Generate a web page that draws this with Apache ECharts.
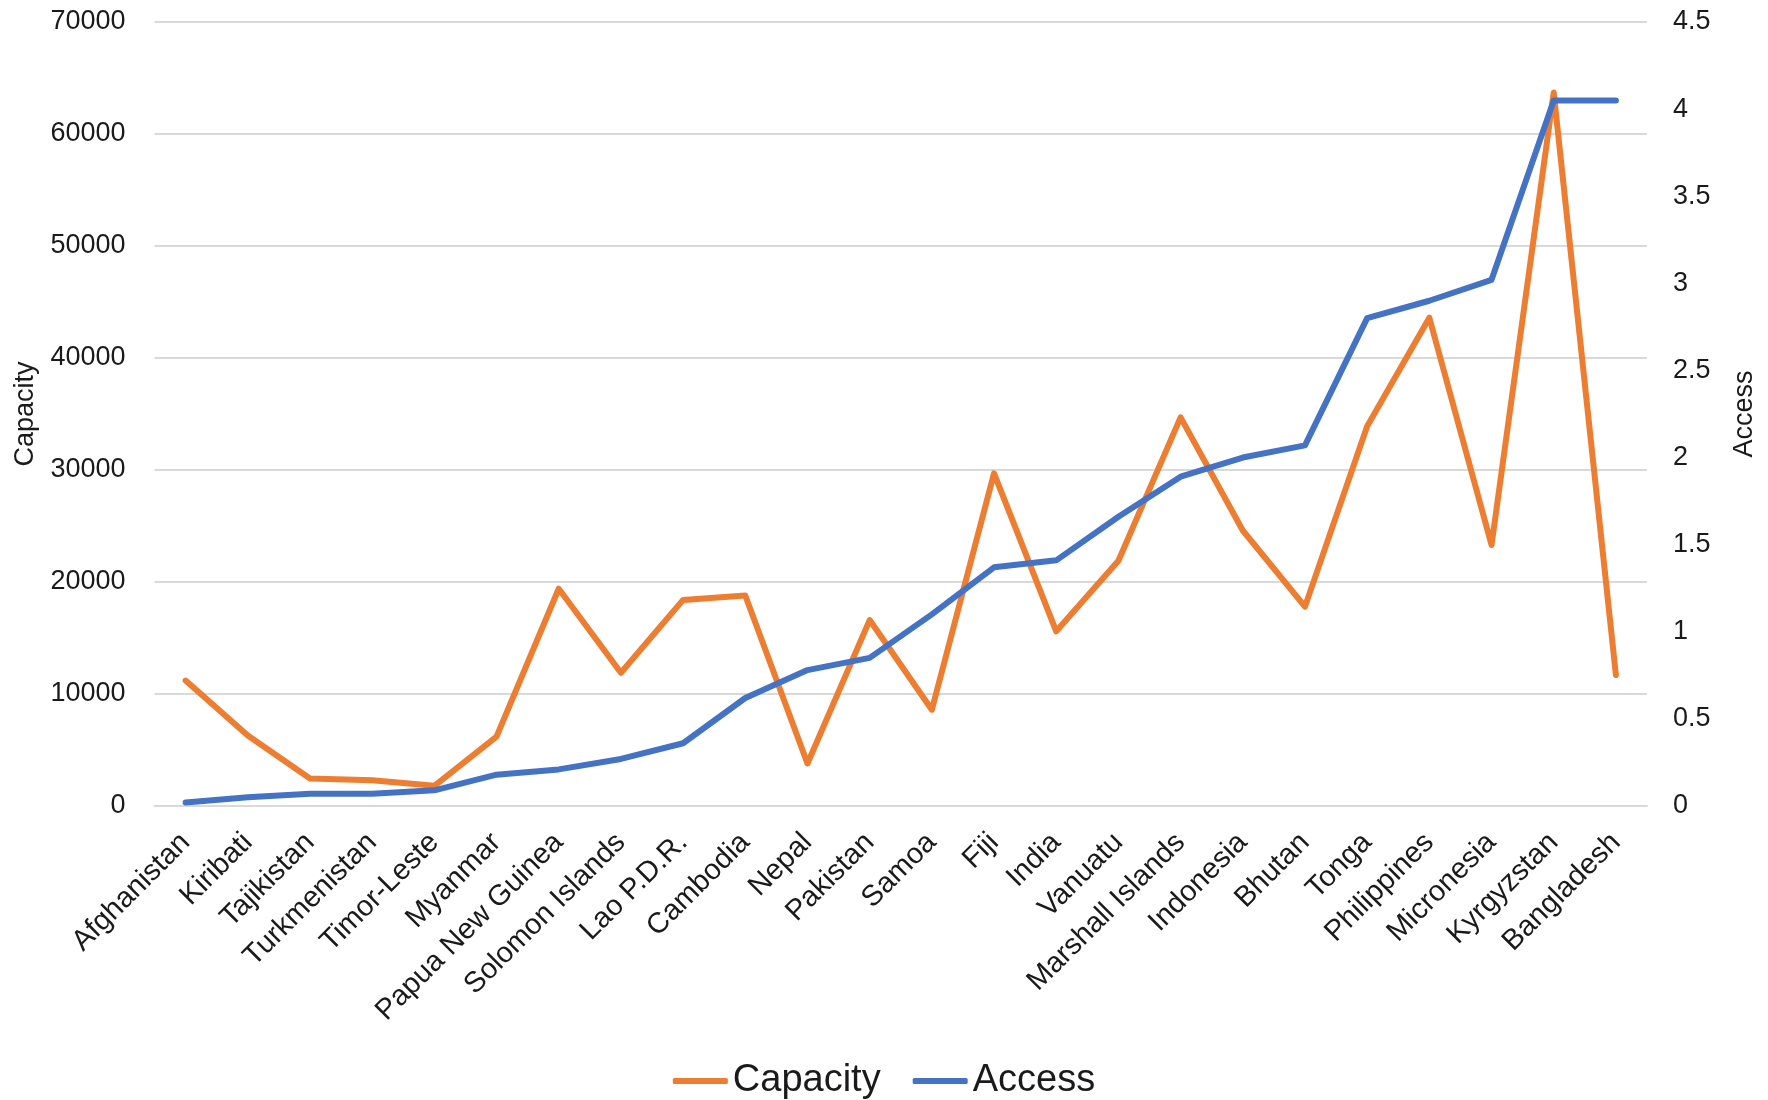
<!DOCTYPE html>
<html>
<head>
<meta charset="utf-8">
<style>
  html, body { margin: 0; padding: 0; background: #fff; }
  #chart { width: 1768px; height: 1100px; }
</style>
<script src="https://cdn.jsdelivr.net/npm/echarts@6/dist/echarts.min.js"></script>
</head>
<body>
<div id="chart"></div>
<script>
const categories = ["Afghanistan","Kiribati","Tajikistan","Turkmenistan","Timor-Leste","Myanmar","Papua New Guinea","Solomon Islands","Lao P.D.R.","Cambodia","Nepal","Pakistan","Samoa","Fiji","India","Vanuatu","Marshall Islands","Indonesia","Bhutan","Tonga","Philippines","Micronesia","Kyrgyzstan","Bangladesh"];
const capacity = [11200, 6300, 2450, 2300, 1800, 6200, 19400, 11900, 18400, 18800, 3800, 16600, 8600, 29700, 15600, 21900, 34700, 24600, 17800, 33900, 43600, 23300, 63700, 11700];
const access = [0.02, 0.05, 0.07, 0.07, 0.09, 0.18, 0.21, 0.27, 0.36, 0.62, 0.78, 0.85, 1.1, 1.37, 1.41, 1.66, 1.89, 2.0, 2.07, 2.8, 2.9, 3.02, 4.05, 4.05];
const capacityTicks = { min: 0, max: 70000, interval: 10000 };
const accessTicks = { min: 0, max: 4.5, interval: 0.5 };

const FONT = "'Liberation Sans', Arial, sans-serif";
const TXT = '#1a1a1a';
const chart = echarts.init(document.getElementById('chart'), null, { renderer: 'canvas' });
chart.setOption({
  animation: false,
  backgroundColor: '#ffffff',
  textStyle: { fontFamily: FONT, color: TXT },
  grid: { left: 154.5, right: 121, top: 22, bottom: 294, containLabel: false },
  legend: {
    data: ['Capacity', 'Access'],
    left: 'center',
    top: 1057,
    itemWidth: 55,
    itemHeight: 6,
    itemGap: 32,
    icon: 'roundRect',
    textStyle: { fontFamily: FONT, fontSize: 38, color: TXT }
  },
  xAxis: {
    type: 'category',
    data: categories,
    boundaryGap: true,
    axisLine: { show: true, lineStyle: { color: '#d9d9d9', width: 2 } },
    axisTick: { show: false },
    axisLabel: { interval: 0, rotate: 45, margin: 32, fontSize: 29, color: TXT, fontFamily: FONT }
  },
  yAxis: [
    {
      type: 'value',
      min: capacityTicks.min, max: capacityTicks.max, interval: capacityTicks.interval,
      name: 'Capacity',
      nameLocation: 'middle',
      nameGap: 112,
      nameRotate: 90,
      nameTextStyle: { fontSize: 27, color: TXT, fontFamily: FONT },
      axisLine: { show: false },
      axisTick: { show: false },
      axisLabel: { margin: 29, fontSize: 27, color: TXT, fontFamily: FONT, formatter: function (v) { return String(v); } },
      splitLine: { show: true, lineStyle: { color: '#d9d9d9', width: 2 } }
    },
    {
      type: 'value',
      position: 'right',
      min: accessTicks.min, max: accessTicks.max, interval: accessTicks.interval,
      name: 'Access',
      nameLocation: 'middle',
      nameGap: 84,
      nameRotate: 90,
      nameTextStyle: { fontSize: 27, color: TXT, fontFamily: FONT },
      axisLine: { show: false },
      axisTick: { show: false },
      axisLabel: { margin: 26, fontSize: 27, color: TXT, fontFamily: FONT, formatter: function (v) { return String(v); } },
      splitLine: { show: false }
    }
  ],
  series: [
    {
      name: 'Capacity',
      type: 'line',
      yAxisIndex: 0,
      data: capacity,
      showSymbol: false,
      symbol: 'none',
      color: '#ED7D31',
      lineStyle: { color: '#ED7D31', width: 6, join: 'round', cap: 'round' }
    },
    {
      name: 'Access',
      type: 'line',
      yAxisIndex: 1,
      data: access,
      showSymbol: false,
      symbol: 'none',
      color: '#4472C4',
      lineStyle: { color: '#4472C4', width: 6, join: 'round', cap: 'round' }
    }
  ]
});
</script>
</body>
</html>
